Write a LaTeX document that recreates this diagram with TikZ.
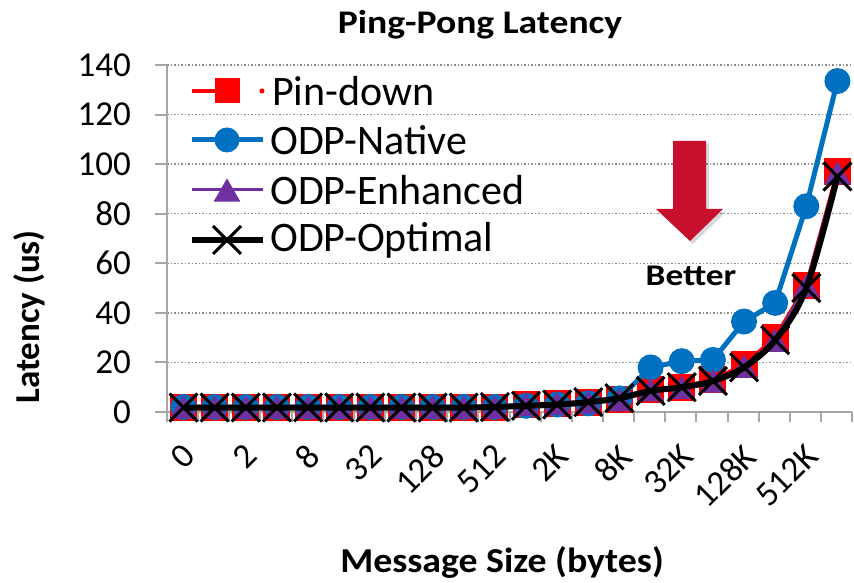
\documentclass[tikz,border=0pt]{standalone}
\usepackage{fontspec}
\setmainfont{Carlito}
\usetikzlibrary{shapes.geometric,shapes.misc,shadows}
\definecolor{pindown}{HTML}{FF0000}
\definecolor{native}{HTML}{0070C0}
\definecolor{enhanced}{HTML}{7030A0}
\definecolor{optimal}{HTML}{000000}
\definecolor{gridgray}{HTML}{8C8C8C}
\definecolor{axisgray}{HTML}{A6A6A6}
\definecolor{betterred}{HTML}{C8102E}

\tikzset{
  sqmark/.style={rectangle, fill=pindown, inner sep=0pt, minimum size=27pt},
  dotmark/.style={circle, fill=native, inner sep=0pt, minimum size=26pt},
  trimark/.style={regular polygon, regular polygon sides=3, fill=enhanced, inner sep=0pt, minimum size=31pt, yshift=-3.9pt},
  xmark/.style={cross out, draw=optimal, line width=3pt, inner sep=0pt, minimum size=25pt},
  pdline/.style={pindown, line width=4pt},
  nvline/.style={native, line width=5pt},
  enline/.style={enhanced, line width=3pt},
  opline/.style={optimal, line width=6pt},
  gridline/.style={gridgray, line width=1.5pt, dash pattern=on 1.5pt off 2pt},
  axisline/.style={axisgray, line width=2pt},
  ticklbl/.style={font=\fontsize{35}{40}\selectfont, inner sep=0pt},
  leglbl/.style={font=\fontsize{42}{48}\selectfont, inner sep=0pt, anchor=west},
  axtitle/.style={font=\bfseries\fontsize{35}{40}\selectfont, inner sep=0pt},
}

\begin{document}
\begin{tikzpicture}[x=1pt, y=1pt]
  \useasboundingbox (0,0) rectangle (854,583);

  % grid and axes
  \foreach \v in {20,40,...,140}
    \draw[gridline] (167,{171+2.479*\v}) -- (852,{171+2.479*\v});
  \draw[axisline] (167,171) -- (167,{171+2.479*140});
  \draw[axisline] (167,171) -- (852,171);
  \foreach \v in {0,20,...,140}
    \draw[axisline] (155,{171+2.479*\v}) -- (167,{171+2.479*\v});
  \foreach \k in {0,...,22}
    \draw[axisline] ({167+31.14*\k},171) -- ++(0,-10);

  % tick labels
  \foreach \v in {0,20,...,140}
    \node[ticklbl, anchor=east] (ytick\v) at (131,{171+2.479*\v}) {\v};
  \foreach \t [count=\j from 0] in {0,2,8,32,128,512,2K,8K,32K,128K,512K}
    \node[ticklbl, rotate=45, anchor=north east] (xtick\j) at ({181+31.14*2*\j},141) {\t};

  % data points
  \foreach \v [count=\i from 0] in {2,2,2,2,2,2,2,2,2,2,2,3,3.5,4,5,9,10,13,19,30,51,97}
    \coordinate (pd\i) at ({183.5+31.14*\i},{171+2.479*\v});
  \foreach \v [count=\i from 0] in {2,2,2,2,2,2,2,2,2,2,2,2.5,3,3.5,5.5,18,20.5,21,36.5,44,83,133.5}
    \coordinate (nv\i) at ({183.5+31.14*\i},{171+2.479*\v});
  \foreach \v [count=\i from 0] in {2,2,2,2,2,2,2,2,2,2,2,3,3.5,4,5,9,10,12.5,18.5,29,51,96.5}
    \coordinate (en\i) at ({183.5+31.14*\i},{171+2.479*\v});
  \foreach \v [count=\i from 0] in {1.8,1.8,1.8,1.8,1.8,1.8,1.8,1.8,1.8,1.8,2,2.5,3,4,5.6,8.5,10,12.5,18,29,50,95}
    \coordinate (op\i) at ({183.5+31.14*\i},{171+2.479*\v});

  % Pin-down
  \draw[pdline] (pd0) \foreach \i in {1,...,21} { -- (pd\i) };
  \foreach \i in {0,...,21} \node[sqmark] (pdm\i) at (pd\i) {};
  % ODP-Native
  \draw[nvline] (nv0) \foreach \i in {1,...,21} { -- (nv\i) };
  \foreach \i in {0,...,21} \node[dotmark] (nvm\i) at (nv\i) {};
  % ODP-Enhanced
  \draw[enline] (en0) \foreach \i in {1,...,21} { -- (en\i) };
  \foreach \i in {0,...,21} \node[trimark] (enm\i) at (en\i) {};
  % ODP-Optimal (smoothed)
  \draw[opline] plot[smooth, tension=0.55] coordinates {(op0) (op1) (op2) (op3) (op4) (op5) (op6) (op7) (op8) (op9) (op10)
    (op11) (op12) (op13) (op14) (op15) (op16) (op17) (op18) (op19) (op20) (op21)};
  \foreach \i in {0,...,21} \node[xmark] (opm\i) at (op\i) {};

  % legend
  \coordinate (lgpdA) at (192,492);
  \coordinate (lgpdB) at (227,492);
  \draw[pdline] (lgpdA) -- (lgpdB);
  \node[sqmark, minimum size=25pt] (lgpdm) at (lgpdB) {};
  \fill[pindown] (262,492) circle (2.5pt);
  \node[leglbl] (lgpd) at (272,492) {Pin-down};

  \coordinate (lgnvA) at (192,443);
  \coordinate (lgnvB) at (263,443);
  \draw[nvline] (lgnvA) -- (lgnvB);
  \node[dotmark, minimum size=25pt] (lgnvm) at (227,443) {};
  \node[leglbl] (lgnv) at (270,443) {ODP-Native};

  \coordinate (lgenA) at (192,393);
  \coordinate (lgenB) at (263,393);
  \draw[enline] (lgenA) -- (lgenB);
  \node[trimark] (lgenm) at (227,393) {};
  \node[leglbl] (lgen) at (270,393) {ODP-Enhanced};

  \coordinate (lgopA) at (192,343);
  \coordinate (lgopB) at (263,343);
  \draw[opline] (lgopA) -- (lgopB);
  \node[xmark] (lgopm) at (227,343) {};
  \node[leglbl] (lgop) at (270,343) {ODP-Optimal};

  % "better" arrow
  \fill[betterred, drop shadow={opacity=0.3, shadow xshift=3pt, shadow yshift=-3pt}]
    (673,442) -- (706,442) -- (706,374) -- (723,374) -- (690,342) -- (656,374) -- (673,374) -- cycle;
  \node[font=\bfseries\fontsize{30}{34}\selectfont, inner sep=0pt] (better) at (691,307) {\scalebox{1.18}[1]{Better}};

  % titles
  \node[font=\bfseries\fontsize{33}{38}\selectfont, inner sep=0pt] (title) at (480,558) {\scalebox{1.14}[1]{Ping-Pong Latency}};
  \node[axtitle, anchor=base] (xtitle) at (502,10) {\scalebox{1.08}[1]{Message Size (bytes)}};
  \node[axtitle, rotate=90] (ytitle) at (29,266) {Latency (us)};
\end{tikzpicture}
\end{document}
